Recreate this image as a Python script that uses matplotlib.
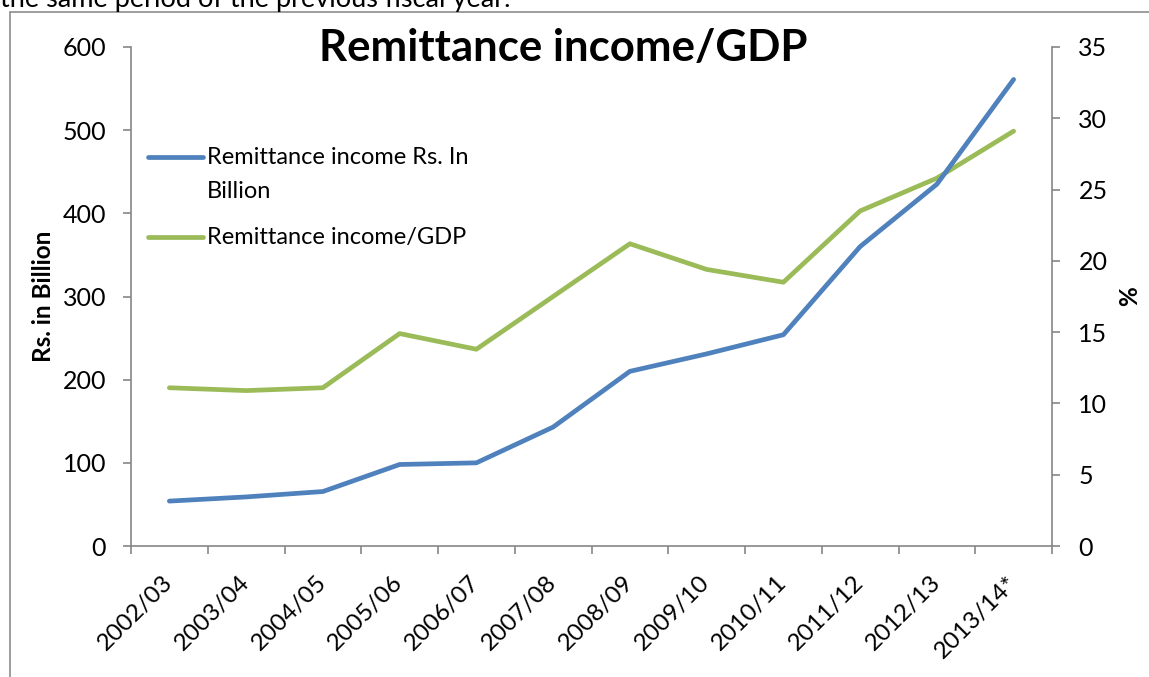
import matplotlib
matplotlib.use('Agg')
import matplotlib.pyplot as plt
from matplotlib.lines import Line2D
from matplotlib.patches import Rectangle

plt.rcParams['font.family'] = ['Lato', 'DejaVu Sans']

years = ['2002/03', '2003/04', '2004/05', '2005/06', '2006/07', '2007/08',
         '2008/09', '2009/10', '2010/11', '2011/12', '2012/13', '2013/14*']
remit_bn = [54, 59, 65.5, 98, 100, 143, 210, 231, 254, 360, 435, 561]
remit_gdp = [11.1, 10.9, 11.1, 14.9, 13.8, 17.5, 21.2, 19.4, 18.5, 23.5, 25.8, 29.1]

blue = '#4F81BD'
green = '#9BBB59'
grey = '#868686'

fig = plt.figure(figsize=(11.49, 6.77), dpi=100)
ax = fig.add_axes([131/1149, 1 - 546/677, (1052 - 131)/1149, (546 - 47)/677])
ax2 = ax.twinx()

x = list(range(len(years)))
ax.plot(x, remit_bn, color=blue, lw=3.4, solid_capstyle='round', zorder=3)
ax2.plot(x, remit_gdp, color=green, lw=3.4, solid_capstyle='round', zorder=2)
ax.set_zorder(ax2.get_zorder() + 1)
ax.patch.set_visible(False)

ax.set_xlim(-0.5, len(years) - 0.5)
ax.set_ylim(0, 600)
ax2.set_ylim(0, 35)
ax.set_yticks(range(0, 601, 100))
ax2.set_yticks(range(0, 36, 5))

# category ticks at boundaries, labels at centres
ax.set_xticks(x)
ax.set_xticks([i - 0.5 for i in range(len(years) + 1)], minor=True)
ax.set_xticklabels(years, rotation=45, ha='right', va='center', rotation_mode='anchor')
ax.tick_params(axis='x', which='major', length=0, pad=24, labelsize=17.5)
ax.tick_params(axis='x', which='minor', length=6, width=1.2, color=grey, direction='out')
ax.tick_params(axis='y', length=6, width=1.2, color=grey, pad=12, labelsize=18)
ax2.tick_params(axis='y', length=6, width=1.2, color=grey, pad=13, labelsize=18)

for a in (ax, ax2):
    for s in a.spines.values():
        s.set_visible(False)
ax.spines['left'].set_visible(True)
ax.spines['bottom'].set_visible(True)
ax2.spines['right'].set_visible(True)
for s in (ax.spines['left'], ax.spines['bottom'], ax2.spines['right']):
    s.set_color(grey)
    s.set_linewidth(1.2)

ax.set_ylabel('Rs. in Billion', fontsize=17.5, fontweight='bold', labelpad=5)
ax2.set_ylabel('%', fontsize=17.5, fontweight='bold', labelpad=8)

fig.text(563/1149, 1 - 48/677, 'Remittance income/GDP', fontsize=31.5, fontweight='bold',
         ha='center', va='center')

# legend, drawn by hand so the swatch sits by the first line of the label
ax.add_line(Line2D([0.019, 0.078], [0.779, 0.779], transform=ax.transAxes,
                   color=blue, lw=3.4, solid_capstyle='round'))
ax.text(0.082, 0.779 + 0.020, 'Remittance income Rs. In\nBillion', transform=ax.transAxes,
        fontsize=17, va='top', ha='left', linespacing=1.75)
ax.add_line(Line2D([0.019, 0.078], [0.619, 0.619], transform=ax.transAxes,
                   color=green, lw=3.4, solid_capstyle='round'))
ax.text(0.082, 0.619, 'Remittance income/GDP', transform=ax.transAxes,
        fontsize=17, va='center', ha='left')

# page frame and the cut-off sentence above the chart
fig.patches.append(Rectangle((10/1149, -0.1), 1.2, 1.1 - 12/677,
                             transform=fig.transFigure, fill=False,
                             edgecolor='#8c8c8c', lw=1.2))
fig.text(0.0, 1 - 7/677, 'the same period of the previous fiscal year.', fontsize=19.5,
         ha='left', va='baseline')

fig.savefig('out.png', dpi=100)
